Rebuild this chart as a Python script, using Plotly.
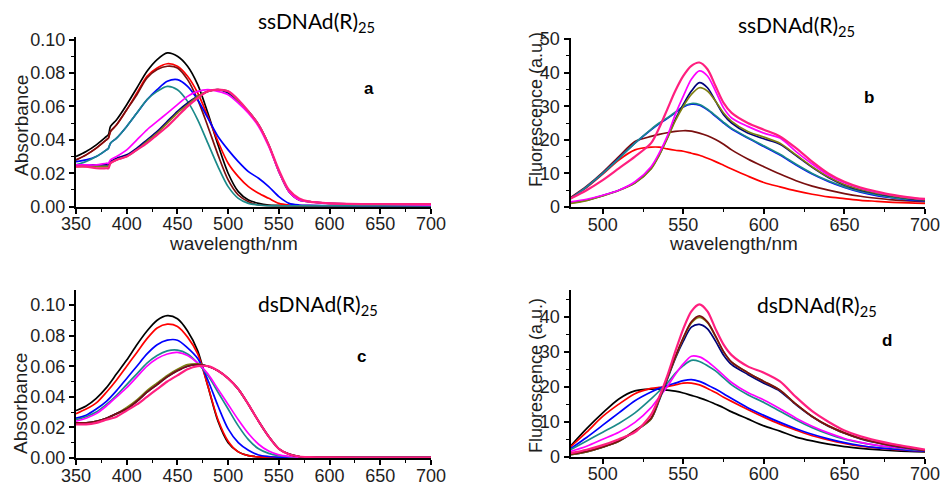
import plotly.graph_objects as go

# ---------------- data ----------------
# Panel a: absorbance, ssDNAd(R)25
WL_A = [350, 360, 370, 380, 382, 384, 390, 400, 410, 420, 430, 440, 450, 460, 470, 480,
        490, 500, 510, 520, 530, 540, 550, 560, 570, 580, 600, 650, 700]
A_BLACK = [0.030, 0.033, 0.037, 0.042, 0.043, 0.048, 0.052, 0.061, 0.071, 0.081, 0.088, 0.092, 0.090, 0.084,
           0.073, 0.056, 0.037, 0.020, 0.009, 0.004, 0.002, 0.001, 0.0008, 0.0006, 0.0005, 0.0005, 0.0005, 0.0005, 0.0005]
A_RED = [0.028, 0.031, 0.035, 0.040, 0.041, 0.045, 0.049, 0.058, 0.068, 0.078, 0.083, 0.0855, 0.084, 0.078,
         0.068, 0.054, 0.039, 0.026, 0.018, 0.012, 0.008, 0.005, 0.002, 0.001, 0.0007, 0.0006, 0.0005, 0.0005, 0.0005]
A_DARKRED = [0.028, 0.031, 0.035, 0.040, 0.041, 0.045, 0.049, 0.058, 0.067, 0.077, 0.082, 0.084, 0.083, 0.076,
             0.064, 0.048, 0.031, 0.016, 0.007, 0.003, 0.001, 0.0006, 0.0005, 0.0005, 0.0005, 0.0005, 0.0005, 0.0005, 0.0005]
A_BLUE = [0.027, 0.028, 0.030, 0.034, 0.035, 0.038, 0.041, 0.048, 0.056, 0.064, 0.070, 0.075, 0.076, 0.072,
          0.064, 0.053, 0.042, 0.034, 0.027, 0.021, 0.017, 0.012, 0.006, 0.002, 0.001, 0.0008, 0.0006, 0.0005, 0.0005]
A_TEAL = [0.025, 0.027, 0.030, 0.034, 0.035, 0.038, 0.041, 0.048, 0.056, 0.064, 0.069, 0.072, 0.070, 0.063,
          0.052, 0.038, 0.024, 0.012, 0.005, 0.002, 0.001, 0.0005, 0.0005, 0.0005, 0.0005, 0.0005, 0.0005, 0.0005, 0.0005]
A_MAGENTA = [0.025, 0.025, 0.025, 0.026, 0.026, 0.028, 0.030, 0.034, 0.040, 0.046, 0.051, 0.056, 0.061, 0.066,
             0.069, 0.070, 0.069, 0.067, 0.062, 0.056, 0.048, 0.036, 0.021, 0.009, 0.004, 0.003, 0.002, 0.0015, 0.001]
A_NAVY = [0.025, 0.025, 0.025, 0.025, 0.025, 0.027, 0.029, 0.031, 0.035, 0.040, 0.045, 0.051, 0.057, 0.062,
          0.066, 0.069, 0.070, 0.068, 0.063, 0.057, 0.049, 0.037, 0.021, 0.009, 0.004, 0.003, 0.002, 0.0015, 0.0015]
A_OLIVE = [0.024, 0.024, 0.024, 0.024, 0.024, 0.026, 0.028, 0.030, 0.034, 0.039, 0.044, 0.050, 0.056, 0.061,
           0.066, 0.069, 0.070, 0.069, 0.063, 0.057, 0.049, 0.037, 0.021, 0.009, 0.004, 0.003, 0.002, 0.0015, 0.0015]
A_PINK = [0.024, 0.024, 0.023, 0.023, 0.023, 0.026, 0.028, 0.030, 0.034, 0.038, 0.043, 0.048, 0.054, 0.060,
          0.065, 0.069, 0.070, 0.069, 0.064, 0.057, 0.049, 0.037, 0.022, 0.010, 0.005, 0.003, 0.002, 0.0015, 0.0015]

# Panel b: fluorescence, ssDNAd(R)25
WL_B = [480, 490, 500, 510, 520, 530, 535, 540, 545, 550, 555, 560, 565, 570, 575, 580,
        590, 600, 610, 620, 630, 640, 650, 660, 670, 680, 690, 700]
B_RED = [2.7, 5.8, 9.8, 14.0, 17.0, 17.8, 17.8, 17.3, 16.9, 16.6, 16.0, 15.4, 14.5, 13.5, 12.4, 11.3,
         9.2, 7.3, 6.0, 4.8, 3.8, 3.0, 2.5, 2.0, 1.7, 1.4, 1.2, 1.1]
B_DARKRED = [2.8, 6.2, 10.3, 15.0, 19.5, 21.0, 21.6, 22.1, 22.5, 22.7, 22.6, 22.0, 21.2, 20.1, 18.7, 17.0,
             14.3, 12.0, 9.8, 7.8, 6.2, 5.0, 4.0, 3.2, 2.6, 2.1, 1.8, 1.6]
B_BLUE = [2.5, 6.0, 10.0, 14.5, 19.0, 23.0, 24.8, 26.3, 28.0, 29.8, 30.6, 30.3, 28.9, 27.0, 25.0, 23.2,
          20.5, 18.0, 15.5, 12.5, 9.8, 7.6, 5.8, 4.4, 3.4, 2.7, 2.1, 1.8]
B_TEAL = [2.5, 6.0, 10.0, 14.4, 19.0, 23.1, 25.0, 26.5, 28.2, 30.0, 30.8, 30.5, 29.1, 27.2, 25.2, 23.4,
          20.7, 18.2, 15.7, 12.7, 10.0, 7.8, 6.0, 4.6, 3.6, 2.8, 2.3, 1.9]
B_NAVY = [1.2, 2.0, 3.4, 5.0, 7.2, 11.5, 15.5, 20.5, 26.0, 30.5, 34.5, 37.0, 35.5, 31.5, 27.5, 25.0,
          22.0, 20.3, 18.7, 15.3, 11.8, 8.8, 6.5, 5.0, 4.0, 3.2, 2.5, 2.0]
B_OLIVE = [1.1, 1.9, 3.3, 4.9, 7.1, 11.3, 15.3, 20.3, 25.6, 30.0, 33.5, 35.5, 34.5, 31.5, 28.0, 25.5,
           22.5, 20.8, 19.0, 15.5, 12.0, 9.0, 6.7, 5.2, 4.1, 3.3, 2.6, 2.1]
B_MAGENTA = [1.5, 2.3, 3.5, 5.0, 7.5, 12.0, 16.0, 21.0, 27.5, 33.0, 38.0, 40.5, 39.0, 34.5, 29.5, 26.5,
             24.0, 22.0, 20.5, 16.5, 12.8, 9.5, 7.2, 5.6, 4.4, 3.5, 2.8, 2.3]
B_PINK = [2.5, 5.0, 8.0, 11.5, 15.0, 19.0, 23.5, 29.0, 34.5, 39.0, 42.0, 43.0, 41.0, 36.0, 31.0, 28.0,
          25.0, 23.0, 21.0, 17.5, 13.5, 10.0, 7.5, 5.8, 4.6, 3.6, 2.9, 2.4]

# Panel c: absorbance, dsDNAd(R)25
WL_C = [350, 360, 370, 380, 390, 400, 410, 420, 430, 440, 450, 460, 470, 480, 490, 500,
        510, 520, 530, 540, 550, 560, 570, 580, 600, 650, 700]
C_BLACK = [0.031, 0.034, 0.039, 0.046, 0.055, 0.064, 0.074, 0.083, 0.090, 0.093, 0.091, 0.083, 0.070, 0.047,
           0.024, 0.010, 0.004, 0.0015, 0.0007, 0.0004, 0.0003, 0.0003, 0.0002, 0.0002, 0.0002, 0.0002, 0.0002]
C_RED = [0.029, 0.032, 0.036, 0.043, 0.051, 0.060, 0.069, 0.078, 0.085, 0.0875, 0.086, 0.079, 0.068, 0.047,
         0.025, 0.011, 0.004, 0.0015, 0.0007, 0.0004, 0.0003, 0.0003, 0.0002, 0.0002, 0.0002, 0.0002, 0.0002]
C_BLUE = [0.026, 0.028, 0.032, 0.037, 0.044, 0.052, 0.060, 0.068, 0.074, 0.077, 0.077, 0.072, 0.065, 0.051,
          0.034, 0.019, 0.010, 0.005, 0.002, 0.001, 0.0005, 0.0003, 0.0002, 0.0002, 0.0002, 0.0002, 0.0002]
C_TEAL = [0.025, 0.027, 0.030, 0.035, 0.041, 0.048, 0.055, 0.062, 0.067, 0.070, 0.0705, 0.068, 0.062, 0.054,
          0.043, 0.032, 0.021, 0.012, 0.006, 0.003, 0.0015, 0.0008, 0.0004, 0.0003, 0.0002, 0.0002, 0.0002]
C_MAGENTA = [0.024, 0.026, 0.029, 0.034, 0.040, 0.046, 0.053, 0.060, 0.065, 0.068, 0.069, 0.067, 0.062, 0.055,
             0.045, 0.035, 0.025, 0.016, 0.009, 0.0045, 0.002, 0.001, 0.0005, 0.0003, 0.0002, 0.0002, 0.0002]
C_OLIVE = [0.023, 0.023, 0.024, 0.026, 0.029, 0.033, 0.038, 0.044, 0.049, 0.054, 0.058, 0.061, 0.0615, 0.060,
           0.057, 0.052, 0.045, 0.035, 0.024, 0.014, 0.006, 0.0025, 0.001, 0.0006, 0.0004, 0.0003, 0.0003]
C_NAVY = [0.023, 0.023, 0.024, 0.026, 0.029, 0.032, 0.037, 0.043, 0.048, 0.053, 0.057, 0.060, 0.061, 0.060,
          0.057, 0.052, 0.045, 0.035, 0.024, 0.014, 0.006, 0.0025, 0.001, 0.0006, 0.0004, 0.0003, 0.0003]
C_DARKRED = [0.023, 0.023, 0.024, 0.026, 0.029, 0.032, 0.037, 0.043, 0.048, 0.053, 0.057, 0.060, 0.061, 0.060,
             0.057, 0.052, 0.045, 0.035, 0.024, 0.014, 0.006, 0.0025, 0.001, 0.0006, 0.0004, 0.0003, 0.0003]
C_PINK = [0.022, 0.022, 0.023, 0.025, 0.027, 0.031, 0.035, 0.040, 0.045, 0.050, 0.054, 0.058, 0.060, 0.060,
          0.057, 0.052, 0.045, 0.035, 0.024, 0.014, 0.006, 0.0025, 0.001, 0.0006, 0.0004, 0.0003, 0.0003]

# Panel d: fluorescence, dsDNAd(R)25
WL_D = [480, 490, 500, 510, 520, 530, 535, 540, 545, 550, 555, 560, 565, 570, 575, 580,
        590, 600, 610, 620, 630, 640, 650, 660, 670, 680, 690, 700]
D_BLACK = [3.0, 8.0, 12.5, 16.5, 18.8, 19.3, 19.3, 19.0, 18.7, 18.2, 17.5, 16.8, 16.0, 15.0, 14.0, 12.8,
           10.8, 8.8, 7.3, 5.6, 4.5, 3.6, 2.9, 2.4, 2.0, 1.7, 1.5, 1.4]
D_RED = [2.8, 7.0, 11.5, 15.0, 18.0, 19.5, 19.8, 20.0, 20.5, 21.0, 21.0, 20.5, 19.5, 18.3, 17.0, 15.8,
         13.5, 11.3, 9.3, 7.6, 6.0, 4.8, 3.8, 3.0, 2.5, 2.1, 1.8, 1.5]
D_BLUE = [2.3, 5.5, 9.0, 12.5, 16.0, 18.5, 19.5, 20.3, 21.0, 21.7, 22.0, 21.5, 20.5, 19.3, 18.0, 16.6,
          14.0, 11.8, 9.8, 8.0, 6.4, 5.1, 4.0, 3.2, 2.6, 2.2, 1.8, 1.6]
D_TEAL = [2.0, 4.5, 7.0, 9.5, 12.5, 16.5, 18.7, 21.0, 23.8, 26.0, 27.5, 27.2, 26.0, 24.5, 22.5, 20.5,
          17.7, 15.5, 13.0, 10.5, 8.3, 6.5, 5.0, 4.0, 3.2, 2.6, 2.1, 1.8]
D_MAGENTA = [1.5, 3.0, 5.0, 7.0, 9.8, 14.0, 17.0, 20.0, 23.5, 26.5, 28.7, 28.5, 27.2, 25.3, 23.2, 21.2,
             18.3, 16.2, 13.7, 11.0, 8.7, 6.8, 5.2, 4.1, 3.3, 2.7, 2.2, 1.9]
D_NAVY = [0.6, 1.4, 2.7, 4.4, 7.3, 10.8, 16.0, 22.0, 28.0, 33.0, 37.0, 37.8, 36.5, 33.0, 29.0, 26.3,
          23.5, 21.0, 18.7, 14.8, 11.4, 8.7, 6.7, 5.1, 4.0, 3.1, 2.4, 1.7]
D_OLIVE = [0.6, 1.4, 2.7, 4.4, 7.3, 10.8, 16.3, 22.3, 28.3, 33.8, 38.2, 39.8, 38.3, 34.3, 30.0, 27.0,
           24.0, 21.5, 19.0, 15.0, 11.5, 8.8, 6.8, 5.2, 4.1, 3.2, 2.5, 1.8]
D_DARKRED = [0.7, 1.5, 2.8, 4.5, 7.5, 11.0, 16.5, 22.5, 28.5, 34.0, 38.5, 40.2, 38.5, 34.5, 30.0, 27.0,
             24.0, 21.5, 19.0, 15.0, 11.5, 8.8, 6.8, 5.2, 4.1, 3.2, 2.5, 1.8]
D_PINK = [1.0, 2.0, 3.3, 5.0, 7.0, 12.0, 17.0, 23.0, 30.0, 36.5, 41.5, 43.5, 41.5, 36.5, 32.0, 29.0,
          25.8, 24.0, 21.5, 17.0, 13.0, 10.0, 7.5, 5.8, 4.6, 3.6, 2.8, 2.0]

TITLE_SS = "ssDNAd(R)<sub>25</sub>"
TITLE_DS = "dsDNAd(R)<sub>25</sub>"
ABS_LABEL = "Absorbance"
FL_LABEL = "Fluorescence (a.u.)"
X_LABEL = "wavelength/nm"

COL = dict(black="#000000", red="#ff0000", darkred="#7a0f0f", blue="#0000ff", teal="#1b8a8a",
           magenta="#ff00ff", navy="#00007a", olive="#7f7f10", pink="#ff1f7f")

W, H = 941, 485


def fx(px):
    return px / W


def fy(py):
    return 1 - py / H


fig = go.Figure()

panels = [
    ("x", "y", WL_A, [("black", A_BLACK), ("red", A_RED), ("darkred", A_DARKRED), ("blue", A_BLUE),
                      ("teal", A_TEAL), ("navy", A_NAVY), ("olive", A_OLIVE), ("magenta", A_MAGENTA),
                      ("pink", A_PINK)]),
    ("x2", "y2", WL_B, [("red", B_RED), ("darkred", B_DARKRED), ("blue", B_BLUE), ("teal", B_TEAL),
                        ("navy", B_NAVY), ("olive", B_OLIVE), ("magenta", B_MAGENTA), ("pink", B_PINK)]),
    ("x3", "y3", WL_C, [("black", C_BLACK), ("red", C_RED), ("blue", C_BLUE), ("teal", C_TEAL),
                        ("magenta", C_MAGENTA), ("olive", C_OLIVE), ("navy", C_NAVY), ("darkred", C_DARKRED),
                        ("pink", C_PINK)]),
    ("x4", "y4", WL_D, [("black", D_BLACK), ("red", D_RED), ("blue", D_BLUE), ("teal", D_TEAL),
                        ("magenta", D_MAGENTA), ("navy", D_NAVY), ("olive", D_OLIVE), ("darkred", D_DARKRED),
                        ("pink", D_PINK)]),
]

for xa, ya, wl, series in panels:
    for cname, vals in series:
        fig.add_trace(go.Scatter(
            x=wl, y=vals, xaxis=xa, yaxis=ya, mode="lines",
            line=dict(color=COL[cname], width=2.2 if cname == "pink" else 1.7,
                      shape="spline", smoothing=0.8),
            showlegend=False, hoverinfo="skip"))

TICKFONT = dict(family="Liberation Sans, Arial, sans-serif", size=18, color="#1e1e1e")


def xaxis(dom, rng, anchor):
    return dict(domain=[fx(dom[0]), fx(dom[1])], range=rng, anchor=anchor, automargin=False,
                showline=True, linecolor="black", linewidth=2, showgrid=False, zeroline=False,
                ticks="outside", ticklen=5, tickwidth=1.5, tickcolor="black", dtick=50, tick0=0,
                ticklabelstandoff=-5,
                minor=dict(ticks="outside", ticklen=3, tickwidth=1.2, tickcolor="black", dtick=25),
                tickfont=TICKFONT, fixedrange=True)


def yaxis(dom, rng, anchor, dtick, mdtick, fmt=None):
    d = dict(domain=[fy(dom[0]), fy(dom[1])], range=rng, anchor=anchor, automargin=False,
             showline=True, linecolor="black", linewidth=2, showgrid=False, zeroline=False,
             ticks="outside", ticklen=5, tickwidth=1.5, tickcolor="black", dtick=dtick, tick0=0,
             minor=dict(ticks="outside", ticklen=3, tickwidth=1.2, tickcolor="black", dtick=mdtick),
             tickfont=TICKFONT, fixedrange=True)
    if fmt:
        d["tickformat"] = fmt
    return d


fig.update_layout(
    template="none",
    width=W, height=H, margin=dict(l=0, r=0, t=0, b=0, pad=0), autosize=False,
    paper_bgcolor="white", plot_bgcolor="white",
    xaxis=xaxis((76, 431), [350, 700], "y"),
    yaxis=yaxis((206.7, 37), [0, 0.1015], "x", 0.02, 0.01, ".2f"),
    xaxis2=xaxis((570.5, 925), [480, 700], "y2"),
    yaxis2=yaxis((207, 37.5), [0, 50.45], "x2", 10, 5),
    xaxis3=xaxis((76, 431), [350, 700], "y3"),
    yaxis3=yaxis((458, 290), [0, 0.1098], "x3", 0.02, 0.01, ".2f"),
    xaxis4=xaxis((570.5, 925), [480, 700], "y4"),
    yaxis4=yaxis((456.7, 290), [0, 47.6], "x4", 10, 5),
)

ann = []


def text(px, py, s, size, family, bold=False, angle=0, color="black"):
    ann.append(dict(x=fx(px), y=fy(py), xref="paper", yref="paper", text=f"<b>{s}</b>" if bold else s,
                    showarrow=False, textangle=angle, xanchor="center", yanchor="middle",
                    font=dict(family=family, size=size, color=color)))


TITLE_FONT = "Lato, Open Sans, sans-serif"
LABEL_FONT = "Liberation Sans, Arial, sans-serif"

text(316, 22, TITLE_SS, 21, TITLE_FONT)
text(796, 26, TITLE_SS, 21, TITLE_FONT)
text(318, 305, TITLE_DS, 21, TITLE_FONT)
text(817, 306, TITLE_DS, 21, TITLE_FONT)

text(369, 88, "a", 17, LABEL_FONT, bold=True)
text(869, 98, "b", 17, LABEL_FONT, bold=True)
text(361, 356, "c", 17, LABEL_FONT, bold=True)
text(887, 340, "d", 17, LABEL_FONT, bold=True)

text(22, 126, ABS_LABEL, 19, LABEL_FONT, angle=-90, color="#1e1e1e")
text(20, 404, ABS_LABEL, 19, LABEL_FONT, angle=-90, color="#1e1e1e")
text(536, 110, FL_LABEL, 18, LABEL_FONT, angle=-90, color="#1e1e1e")
text(536, 376, FL_LABEL, 18, LABEL_FONT, angle=-90, color="#1e1e1e")

text(233, 243, X_LABEL, 19, LABEL_FONT, color="#1e1e1e")
text(733, 243, X_LABEL, 19, LABEL_FONT, color="#1e1e1e")

fig.update_layout(annotations=ann)

fig.write_html("out.html")
